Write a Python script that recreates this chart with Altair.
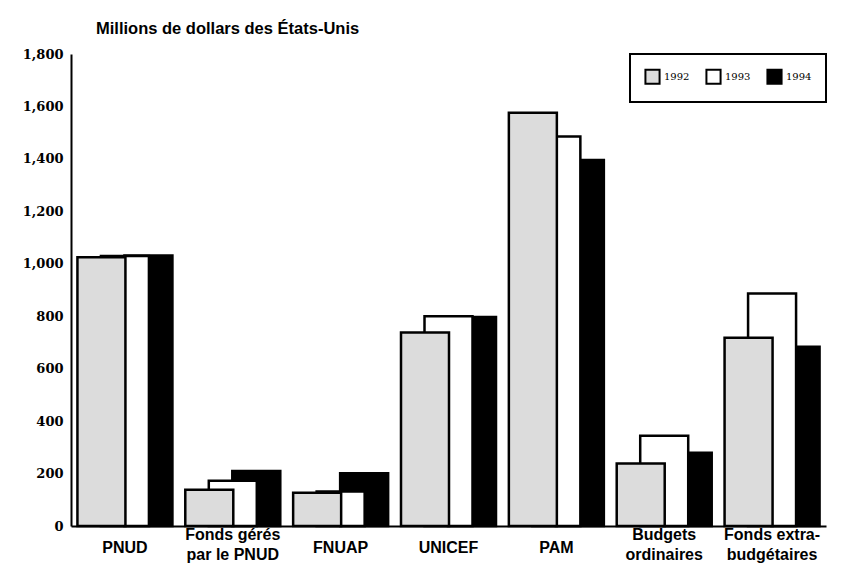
import altair as alt
import pandas as pd

categories = ["PNUD", "Fonds gérés\npar le PNUD", "FNUAP", "UNICEF", "PAM",
              "Budgets\nordinaires", "Fonds extra-\nbudgétaires"]
years = ["1992", "1993", "1994"]
values_1992 = [1025, 138, 127, 738, 1576, 238, 718]
values_1993 = [1030, 173, 132, 800, 1485, 344, 887]
values_1994 = [1032, 210, 201, 797, 1396, 279, 684]
fills = ["#dcdcdc", "#ffffff", "#000000"]
y_ticks = [0, 200, 400, 600, 800, 1000, 1200, 1400, 1600, 1800]

rows = []
for yr, vals in zip(years, [values_1992, values_1993, values_1994]):
    for c, v in zip(categories, vals):
        rows.append({"cat": c, "year": yr, "value": v})
df = pd.DataFrame(rows)

base = alt.Chart(df)

x_enc = alt.X("cat:N", sort=categories, title=None,
              scale=alt.Scale(paddingInner=0.12, paddingOuter=0.06),
              axis=alt.Axis(labelAngle=0, labelExpr="split(datum.label, '\\n')",
                            labelFont="Liberation Sans", labelFontWeight="bold",
                            labelFontSize=16, labelLineHeight=20, labelColor="black",
                            labelBaseline="top",
                            labelPadding={"condition": {"test": "indexof(datum.label, '\\n') < 0", "value": 13},
                                          "value": 0},
                            ticks=False, domainColor="black", domainWidth=2))
y_enc = alt.Y("value:Q", title=None,
              scale=alt.Scale(domain=[0, 1800], nice=False),
              axis=alt.Axis(values=y_ticks, format=",d", grid=False, ticks=False,
                            labelFont="DejaVu Serif", labelFontWeight="bold",
                            labelFontSize=13, labelColor="black", labelPadding=8,
                            domainColor="black", domainWidth=2))
fill_enc = alt.Fill("year:N", scale=alt.Scale(domain=years, range=fills),
                    legend=alt.Legend(title=None))

layers = []
for yr, off in [("1994", 23.5), ("1993", 0), ("1992", -23.5)]:
    layers.append(
        base.transform_filter(alt.datum.year == yr)
        .mark_bar(width=48, xOffset=off, stroke="black", strokeWidth=2.5)
        .encode(x=x_enc, y=y_enc, fill=fill_enc)
    )

chart = alt.layer(*layers).properties(
    width=755, height=472,
    title=alt.TitleParams("Millions de dollars des États-Unis", anchor="start",
                          frame="group", dx=25, offset=11, fontSize=16.5,
                          font="Liberation Sans", fontWeight="bold", color="black"),
    padding={"left": 14, "top": 12, "right": 5, "bottom": 5},
).configure_view(stroke=None).configure_legend(
    orient="top-right", offset=0, direction="horizontal",
    strokeColor="black", strokeWidth=2, padding=14,
    symbolType="square", symbolSize=200, symbolStrokeColor="black",
    symbolStrokeWidth=2, labelFont="DejaVu Serif", labelFontSize=10,
    labelColor="black", columnPadding=12, labelOffset=3,
)

chart.save("out.html", embed_options={"renderer": "svg", "actions": False})
